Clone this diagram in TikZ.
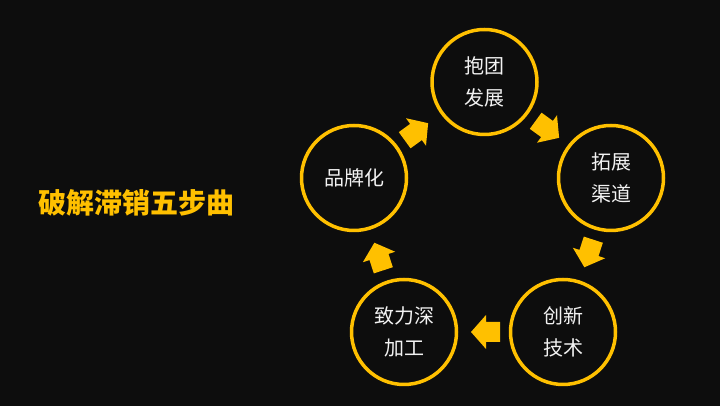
\documentclass[tikz,border=0pt]{standalone}
\usepackage{fontspec}
\newfontfamily\cjk{Noto Sans CJK SC}
\definecolor{bg}{HTML}{0D0D0D}
\definecolor{gold}{HTML}{FFC000}
\definecolor{txt}{HTML}{F2F2F2}
\begin{document}
\begin{tikzpicture}[x=1pt,y=1pt,
  stepcircle/.style={circle,draw=gold,line width=3.5pt,minimum size=105pt,inner sep=0pt,
    text=txt,align=center,font=\cjk\fontsize{20}{32}\selectfont},
  title/.style={text=gold,font=\cjk\bfseries\fontsize{28}{32}\selectfont,inner sep=0pt}]
\fill[bg] (0,0) rectangle (720,406);
\useasboundingbox (0,0) rectangle (720,406);
\node[title] (t) at (136,203) {破解滞销五步曲};
\node[stepcircle] (c1) at (484.5,324) {抱团\\发展};
\node[stepcircle] (c2) at (611,228) {拓展\\渠道};
\node[stepcircle] (c3) at (563,74) {创新\\技术};
\node[stepcircle] (c4) at (404,74) {致力深\\加工};
\node[stepcircle] (c5) at (354,228) {品牌化};
\foreach \p/\a in {{(547,277)}/-36,{(589,153)}/-108,{(486,74)}/180,{(379,149)}/108,{(416,274)}/36}{
  \fill[gold,shift={\p},rotate=\a] (-14,-10) -- (0,-10) -- (0,-17) -- (15,0) -- (0,17) -- (0,10) -- (-14,10) -- cycle;
}
\end{tikzpicture}
\end{document}
